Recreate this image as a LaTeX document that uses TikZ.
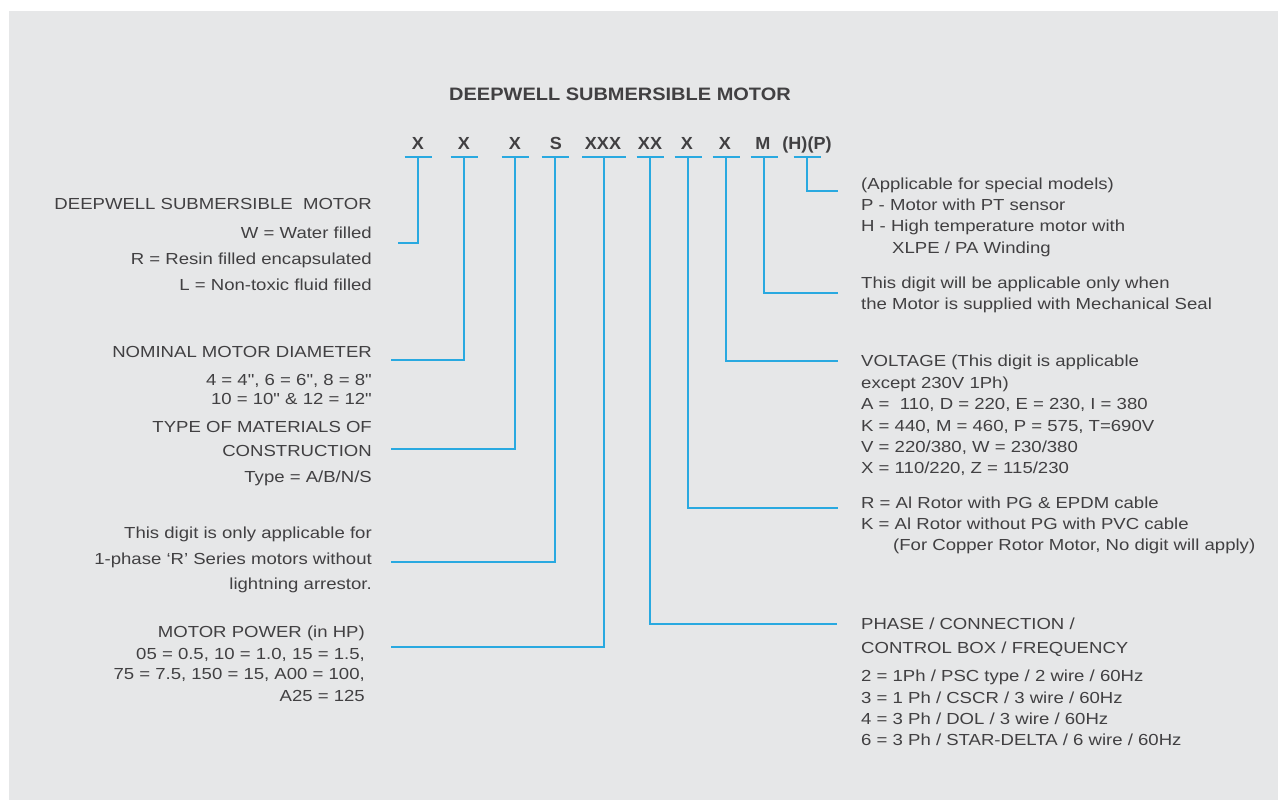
\documentclass[tikz,border=0pt]{standalone}
\usepackage{fontspec}
\newfontfamily\labfont[FakeStretch=1.16]{Liberation Sans}
\newfontfamily\headfont[FakeStretch=1.11]{Liberation Sans}
\newfontfamily\codefont[FakeStretch=1.03]{Liberation Sans}
\definecolor{panel}{HTML}{E6E7E8}
\definecolor{ink}{HTML}{414042}
\definecolor{wirecol}{HTML}{29A9E0}
\begin{document}
\begin{tikzpicture}[x=1pt,y=-1pt,
  txt/.style={font=\labfont\fontsize{16}{19}\selectfont, text=ink, inner sep=0pt},
  lft/.style={txt, anchor=base east},
  rgt/.style={txt, anchor=base west},
  code/.style={font=\codefont\bfseries\fontsize{17.5}{20}\selectfont, text=ink, inner sep=0pt, anchor=base},
  wire/.style={draw=wirecol, line width=1.3pt},
]
\fill[white] (0,0) rectangle (1278,800);
\fill[panel] (9,11) rectangle (1278,800);
\useasboundingbox (0,0) rectangle (1278,800);

% title
\node[font=\headfont\bfseries\fontsize{18}{21}\selectfont, text=ink, inner sep=0pt, anchor=base] (title) at (620,101) {DEEPWELL SUBMERSIBLE MOTOR};

% code letters
\node[code] (c1) at (418,149) {X};
\node[code] (c2) at (464,149) {X};
\node[code] (c3) at (515,149) {X};
\node[code] (c4) at (556,149) {S};
\node[code] (c5) at (603,149) {XXX};
\node[code] (c6) at (650,149) {XX};
\node[code] (c7) at (687,149) {X};
\node[code] (c8) at (725,149) {X};
\node[code] (c9) at (763,149) {M};
\node[code] (c10) at (807,149) {(H)(P)};

% bars
\coordinate (b1) at (418,157);
\coordinate (b2) at (464,157);
\coordinate (b3) at (515,157);
\coordinate (b4) at (555,157);
\coordinate (b5) at (604,157);
\coordinate (b6) at (650,157);
\coordinate (b7) at (688,157);
\coordinate (b8) at (726,157);
\coordinate (b9) at (764,157);
\coordinate (b10) at (807,157);
\foreach \b in {b1,b2,b3,b4,b6,b7,b8,b9,b10}
  \draw[wire] ([xshift=-13.5pt]\b) -- ([xshift=13.5pt]\b);
\draw[wire] ([xshift=-22pt]b5) -- ([xshift=22pt]b5);

% connector ends
\coordinate (e1) at (398,243);
\coordinate (e2) at (391,360);
\coordinate (e3) at (391,449);
\coordinate (e4) at (391,562);
\coordinate (e5) at (391,647);
\coordinate (e6) at (837,624);
\coordinate (e7) at (838,508);
\coordinate (e8) at (838,361);
\coordinate (e9) at (838,293);
\coordinate (e10) at (838,191);
\foreach \i in {1,...,10}
  \draw[wire] (b\i) |- (e\i);

% left column
\node[lft] (l1) at (372,209) {DEEPWELL SUBMERSIBLE\ \ MOTOR};
\node[lft] (l2) at (372,238) {W = Water filled};
\node[lft] (l3) at (372,264) {R = Resin filled encapsulated};
\node[lft] (l4) at (372,290) {L = Non-toxic fluid filled};
\node[lft] (l5) at (372,357) {NOMINAL MOTOR DIAMETER};
\node[lft] (l6) at (372,385) {4 = 4", 6 = 6", 8 = 8"};
\node[lft] (l7) at (372,404) {10 = 10" \& 12 = 12"};
\node[lft] (l8) at (372,432) {TYPE OF MATERIALS OF};
\node[lft] (l9) at (372,456) {CONSTRUCTION};
\node[lft] (l10) at (372,482) {Type = A/B/N/S};
\node[lft] (l11) at (372,538) {This digit is only applicable for};
\node[lft] (l12) at (372,564) {1-phase ‘R’ Series motors without};
\node[lft] (l13) at (372,589) {lightning arrestor.};
\node[lft] (l14) at (365,637) {MOTOR POWER (in HP)};
\node[lft] (l15) at (365,659) {05 = 0.5, 10 = 1.0, 15 = 1.5,};
\node[lft] (l16) at (365,679) {75 = 7.5, 150 = 15, A00 = 100,};
\node[lft] (l17) at (365,701) {A25 = 125};

% right column
\node[rgt] (r1) at (861,189) {(Applicable for special models)};
\node[rgt] (r2) at (861,210) {P - Motor with PT sensor};
\node[rgt] (r3) at (861,231) {H - High temperature motor with};
\node[rgt] (r4) at (892,253) {XLPE / PA Winding};
\node[rgt] (r5) at (861,288) {This digit will be applicable only when};
\node[rgt] (r6) at (861,309) {the Motor is supplied with Mechanical Seal};
\node[rgt] (r7) at (861,366) {VOLTAGE (This digit is applicable};
\node[rgt] (r8) at (861,388) {except 230V 1Ph)};
\node[rgt] (r9) at (861,409) {A =\ \ 110, D = 220, E = 230, I = 380};
\node[rgt] (r10) at (861,431) {K = 440, M = 460, P = 575, T=690V};
\node[rgt] (r11) at (861,452) {V = 220/380, W = 230/380};
\node[rgt] (r12) at (861,473) {X = 110/220, Z = 115/230};
\node[rgt] (r13) at (861,508) {R = Al Rotor with PG \& EPDM cable};
\node[rgt] (r14) at (861,529) {K = Al Rotor without PG with PVC cable};
\node[rgt] (r15) at (893,550) {(For Copper Rotor Motor, No digit will apply)};
\node[rgt] (r16) at (861,629) {PHASE / CONNECTION /};
\node[rgt] (r17) at (861,653) {CONTROL BOX / FREQUENCY};
\node[rgt] (r18) at (861,681) {2 = 1Ph / PSC type / 2 wire / 60Hz};
\node[rgt] (r19) at (861,703) {3 = 1 Ph / CSCR / 3 wire / 60Hz};
\node[rgt] (r20) at (861,724) {4 = 3 Ph / DOL / 3 wire / 60Hz};
\node[rgt] (r21) at (861,745) {6 = 3 Ph / STAR-DELTA / 6 wire / 60Hz};
\end{tikzpicture}
\end{document}
